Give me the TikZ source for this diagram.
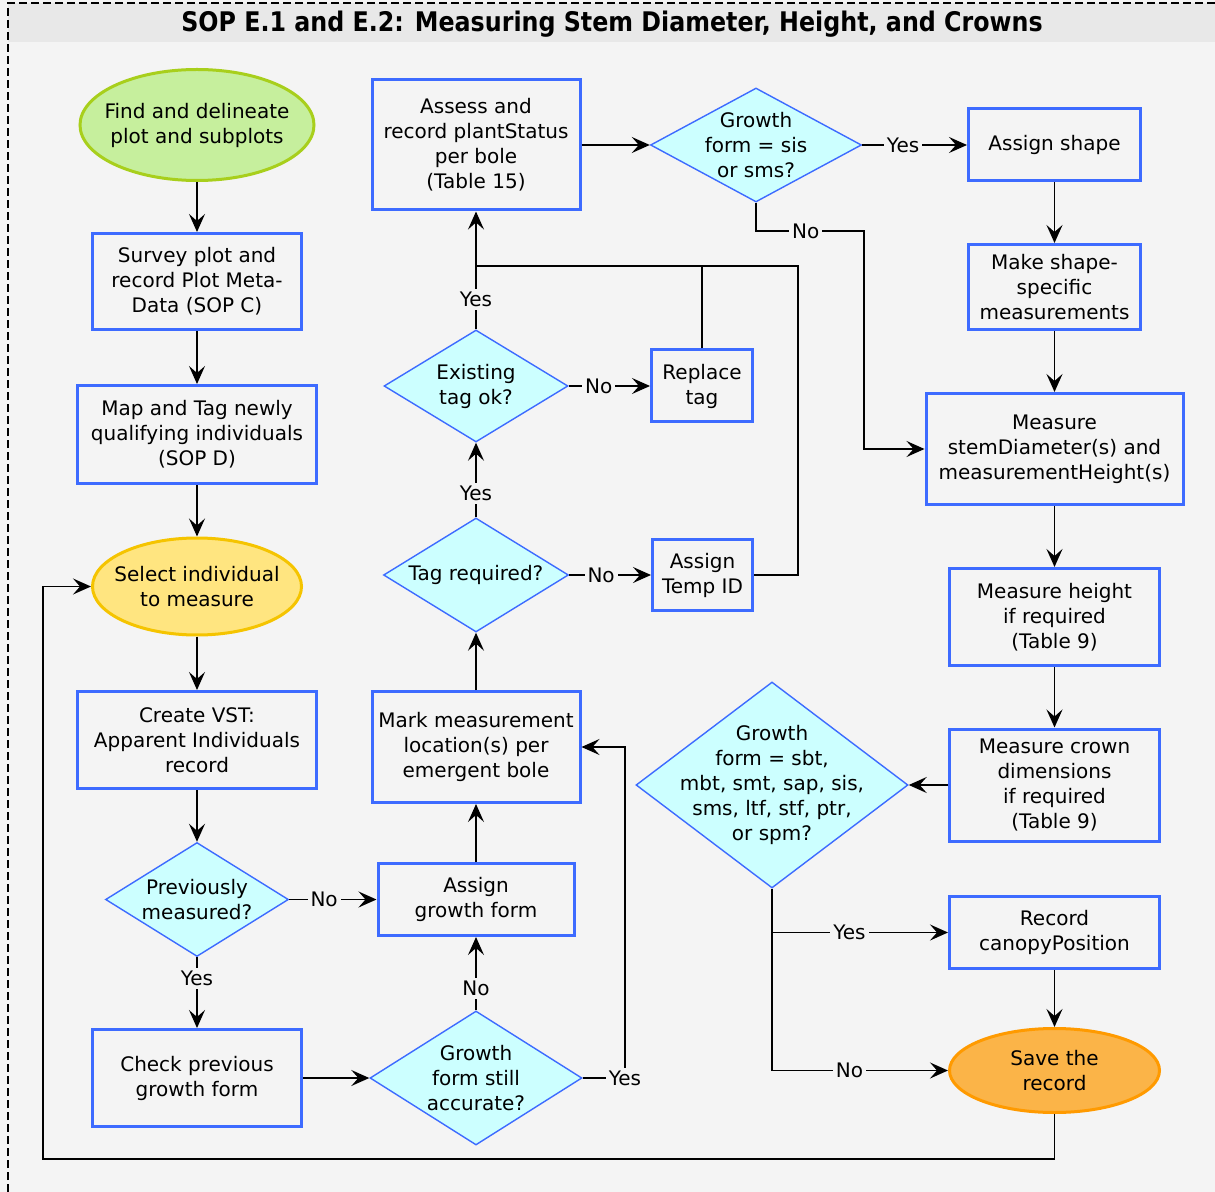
\documentclass[tikz,border=0pt]{standalone}
\usepackage{fontspec}
\setmainfont{DejaVu Sans}
\newfontfamily\titlefont{DejaVu Sans}[FakeStretch=0.88]
\usetikzlibrary{shapes.geometric,arrows.meta}

\definecolor{bgcol}{HTML}{F4F4F4}
\definecolor{titlecol}{HTML}{E8E8E8}
\definecolor{boxblue}{HTML}{3D6BFF}
\definecolor{diafill}{HTML}{CCFFFF}
\definecolor{startfill}{HTML}{C6EF9D}
\definecolor{startline}{HTML}{A8CF1C}
\definecolor{selfill}{HTML}{FFE580}
\definecolor{selline}{HTML}{F5C400}
\definecolor{endfill}{HTML}{FBB448}
\definecolor{endline}{HTML}{FF9A00}

\begin{document}
\begin{tikzpicture}[x=0.5pt,y=-0.5pt,
  font=\fontsize{10}{12.5}\selectfont,
  box/.style={draw=boxblue,line width=1.5pt,fill=bgcol,align=center,inner sep=2pt},
  decision/.style={diamond,draw=boxblue,line width=0.7pt,fill=diafill,inner sep=0pt},
  oval/.style={ellipse,line width=1.5pt,inner sep=0pt},
  txt/.style={align=center},
  flow/.style={line width=0.8pt,-{Stealth[length=9pt,width=8pt,inset=3.5pt]}},
  link/.style={line width=0.8pt},
  lbl/.style={fill=bgcol,inner sep=1.5pt}]
  \useasboundingbox (0,0) rectangle (1215,1192);

  % Background, title band and frame
  \fill[bgcol] (0,0) rectangle (1215,1192);
  \fill[titlecol] (8,3) rectangle (1215,42);
  \draw[dash pattern=on 4pt off 2pt,line width=0.75pt] (8,1192) -- (8,3) -- (1215,3);
  \node[font=\titlefont\bfseries\fontsize{13.5}{16}\selectfont] (title) at (612,24)
    {SOP E.1 and E.2: Measuring Stem Diameter, Height, and Crowns};

  % Left column
  \node[oval,draw=startline,fill=startfill,minimum width=117pt,minimum height=55.5pt,
    label={[txt]center:{Find and delineate\\plot and subplots}}] (find) at (197,125) {};
  \node[box,minimum width=104.5pt,minimum height=48pt] (survey) at (197,281.5)
    {Survey plot and\\record Plot Meta-\\Data (SOP C)};
  \node[box,minimum width=119.5pt,minimum height=49pt] (maptag) at (197,434.5)
    {Map and Tag newly\\qualifying individuals\\(SOP D)};
  \node[oval,draw=selline,fill=selfill,minimum width=104.5pt,minimum height=48.5pt,
    label={[txt]center:{Select individual\\to measure}}] (select) at (197,586.5) {};
  \node[box,minimum width=119.5pt,minimum height=48.5pt] (vst) at (197,740)
    {Create VST:\\Apparent Individuals\\record};
  \node[decision,minimum width=91.5pt,minimum height=57pt,
    label={[txt]center:{Previously\\measured?}}] (prev) at (197,899.5) {};
  \node[box,minimum width=104.5pt,minimum height=48.5pt] (check) at (197,1078)
    {Check previous\\growth form};

  % Middle column
  \node[decision,minimum width=106pt,minimum height=67pt,
    label={[txt]center:{Growth\\form still\\accurate?}}] (still) at (476,1078) {};
  \node[box,minimum width=98pt,minimum height=36pt] (assigngf) at (476,899.5)
    {Assign\\growth form};
  \node[box,minimum width=104pt,minimum height=55.5pt] (mark) at (476,747)
    {Mark measurement\\location(s) per\\emergent bole};
  \node[decision,minimum width=92.5pt,minimum height=57pt,
    label={[txt]center:Tag required?}] (tagreq) at (476,575) {};
  \node[box,minimum width=50pt,minimum height=35.5pt] (tempid) at (702.5,575)
    {Assign\\Temp ID};
  \node[decision,minimum width=92pt,minimum height=56pt,
    label={[txt]center:{Existing\\tag ok?}}] (tagok) at (476,386) {};
  \node[box,minimum width=50.5pt,minimum height=36pt] (replace) at (702,386)
    {Replace\\tag};
  \node[box,minimum width=104pt,minimum height=65pt] (assess) at (476,145)
    {Assess and\\record plantStatus\\per bole\\(Table 15)};

  % Right column
  \node[decision,minimum width=105.5pt,minimum height=57pt,
    label={[txt]center:{Growth\\form = sis\\or sms?}}] (sis) at (756,145) {};
  \node[box,minimum width=86pt,minimum height=36pt] (shape) at (1054.5,145)
    {Assign shape};
  \node[box,minimum width=86pt,minimum height=42.5pt] (shapemeas) at (1054.5,287)
    {Make shape-\\specific\\measurements};
  \node[box,minimum width=128.5pt,minimum height=55.5pt] (stem) at (1054.5,449)
    {Measure\\stemDiameter(s) and\\measurementHeight(s)};
  \node[box,minimum width=105pt,minimum height=48.5pt] (height) at (1054.5,617)
    {Measure height\\if required\\(Table 9)};
  \node[box,minimum width=105pt,minimum height=56pt] (crown) at (1054.5,785)
    {Measure crown\\dimensions\\if required\\(Table 9)};
  \node[decision,minimum width=136pt,minimum height=103pt,
    label={[txt]center:{Growth\\form = sbt,\\mbt, smt, sap, sis,\\sms, ltf, stf, ptr,\\or spm?}}] (gf) at (772,785) {};
  \node[box,minimum width=105pt,minimum height=36pt] (canopy) at (1054.5,932.5)
    {Record\\canopyPosition};
  \node[oval,draw=endline,fill=endfill,minimum width=105pt,minimum height=42pt,
    label={[txt]center:{Save the\\record}}] (save) at (1054.5,1070.5) {};

  % Bend points
  \coordinate (tagjoin) at (476,266);
  \coordinate (tempcorner) at (798,266);
  \coordinate (nocorner) at (864,231);
  \coordinate (yescorner) at (625,747);
  \coordinate (loopcorner) at (43,1159);

  % Left column flow
  \draw[flow] (find) -- (survey);
  \draw[flow] (survey) -- (maptag);
  \draw[flow] (maptag) -- (select);
  \draw[flow] (select) -- (vst);
  \draw[flow] (vst) -- (prev);
  \draw[flow] (prev) -- node[lbl,pos=0.4]{No} (assigngf);
  \draw[flow] (prev) -- node[lbl,pos=0.3]{Yes} (check);
  \draw[flow] (check) -- (still);

  % Middle column flow
  \draw[flow] (still) -- node[lbl,pos=0.3]{No} (assigngf);
  \draw[flow] (still.east) -| node[lbl]{Yes} (yescorner) -- (mark.east);
  \draw[flow] (assigngf) -- (mark);
  \draw[flow] (mark) -- (tagreq);
  \draw[flow] (tagreq) -- node[lbl,pos=0.32]{Yes} (tagok);
  \draw[flow] (tagreq) -- node[lbl,pos=0.39]{No} (tempid);
  \draw[flow] (tagok) -- node[lbl,pos=0.37]{No} (replace);
  \draw[flow] (tagok) -- node[lbl,pos=0.25]{Yes} (assess);
  \draw[link] (replace.north) |- (tagjoin);
  \draw[link] (tempid.east) -| (tempcorner) -- (tagjoin);

  % Right column flow
  \draw[flow] (assess) -- (sis);
  \draw[flow] (sis) -- node[lbl,pos=0.39]{Yes} (shape);
  \draw[flow] (sis.south) |- node[lbl,pos=0.73]{No} (nocorner) |- (stem.west);
  \draw[flow] (shape) -- (shapemeas);
  \draw[flow] (shapemeas) -- (stem);
  \draw[flow] (stem) -- (height);
  \draw[flow] (height) -- (crown);
  \draw[flow] (crown) -- (gf);
  \draw[flow] (gf.south) |- node[lbl,pos=0.72]{No} (save.west);
  \draw[flow] (gf.south |- canopy.west) -- node[lbl,pos=0.44]{Yes} (canopy.west);
  \draw[flow] (canopy) -- (save);

  % Loop back to the next individual
  \draw[flow] (save.south) |- (loopcorner) |- (select.west);
\end{tikzpicture}
\end{document}
